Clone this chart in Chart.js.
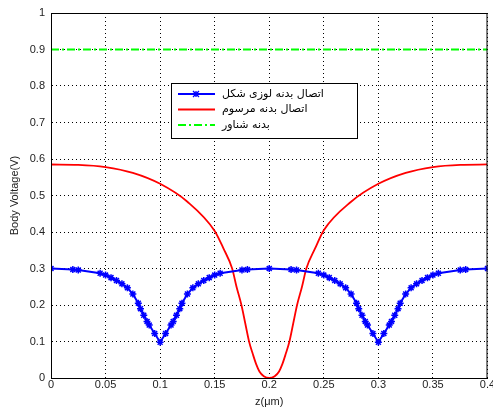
<!DOCTYPE html>
<html>
<head>
<meta charset="utf-8">
<script src="https://cdn.jsdelivr.net/npm/chart.js@4/dist/chart.umd.min.js"></script>
<style>
  html, body { margin: 0; padding: 0; background: #fff; }
  #wrap { width: 493px; height: 413px; }
</style>
</head>
<body>
<div id="wrap"><canvas id="chart"></canvas></div>
<script>
// series
const zBlue = [0, 0.02, 0.025, 0.045, 0.05, 0.055, 0.06, 0.065, 0.07, 0.075, 0.08, 0.082, 0.085, 0.088, 0.09, 0.095, 0.1,
  0.105, 0.11, 0.112, 0.115, 0.118, 0.12, 0.125, 0.13, 0.135, 0.14, 0.145, 0.15, 0.155, 0.175, 0.18, 0.2,
  0.22, 0.225, 0.245, 0.25, 0.255, 0.26, 0.265, 0.27, 0.275, 0.28, 0.282, 0.285, 0.288, 0.29, 0.295, 0.3,
  0.305, 0.31, 0.312, 0.315, 0.318, 0.32, 0.325, 0.33, 0.335, 0.34, 0.345, 0.35, 0.355, 0.375, 0.38, 0.4]
const vBlue = [0.3, 0.297, 0.296, 0.287, 0.282, 0.275, 0.267, 0.258, 0.247, 0.23, 0.205, 0.19, 0.172, 0.155, 0.145, 0.122, 0.098,
  0.122, 0.145, 0.155, 0.172, 0.19, 0.205, 0.23, 0.247, 0.258, 0.267, 0.275, 0.282, 0.287, 0.296, 0.297, 0.3,
  0.297, 0.296, 0.287, 0.282, 0.275, 0.267, 0.258, 0.247, 0.23, 0.205, 0.19, 0.172, 0.155, 0.145, 0.122, 0.098,
  0.122, 0.145, 0.155, 0.172, 0.19, 0.205, 0.23, 0.247, 0.258, 0.267, 0.275, 0.282, 0.287, 0.296, 0.297, 0.3]

const zRed = [0, 0.025, 0.05, 0.075, 0.1, 0.125, 0.15, 0.158, 0.166, 0.17, 0.1745, 0.178, 0.1815, 0.185, 0.188, 0.191, 0.195, 0.2,
  0.205, 0.209, 0.212, 0.215, 0.2185, 0.222, 0.2255, 0.23, 0.234, 0.242, 0.25, 0.275, 0.3, 0.325, 0.35, 0.375, 0.4]
const vRed = [0.585, 0.584, 0.578, 0.562, 0.532, 0.483, 0.403, 0.355, 0.3, 0.25, 0.2, 0.15, 0.1, 0.065, 0.038, 0.018, 0.005, 0.0,
  0.005, 0.018, 0.038, 0.065, 0.1, 0.15, 0.2, 0.25, 0.3, 0.355, 0.405, 0.483, 0.532, 0.562, 0.578, 0.584, 0.585]

const zGreen = [0, 0.4]
const vGreen = [0.9, 0.9]

const seriesNames = ['اتصال بدنه لوزی شکل', 'اتصال بدنه مرسوم', 'بدنه شناور']
const xTicks = [0, 0.05, 0.1, 0.15, 0.2, 0.25, 0.3, 0.35, 0.4]
const yTicks = [0, 0.1, 0.2, 0.3, 0.4, 0.5, 0.6, 0.7, 0.8, 0.9, 1]

const pts = (xs, ys) => xs.map((x, i) => ({ x: x, y: ys[i] }))
const tickFont = { family: 'Liberation Sans, Arial, sans-serif', size: 11 }

// axes box + legend drawn inside the plot, matlab style
const boxAndLegend = {
  id: 'boxAndLegend',
  afterDraw(chart) {
    const c = chart.ctx
    const a = chart.chartArea
    c.save()
    c.strokeStyle = '#000'
    c.lineWidth = 1
    c.setLineDash([])
    c.strokeRect(a.left + 0.5, a.top + 0.5, a.right - a.left - 1, a.bottom - a.top)

    const lx = 171, ly = 83, lw = 186, lh = 55
    c.fillStyle = '#fff'
    c.fillRect(lx, ly, lw, lh)
    c.strokeRect(lx + 0.5, ly + 0.5, lw, lh)
    c.font = '11px "DejaVu Sans", sans-serif'
    c.textBaseline = 'middle'
    chart.data.datasets.forEach((ds, i) => {
      const y = 94 + i * 15.5
      c.strokeStyle = ds.borderColor
      c.lineWidth = ds.borderWidth
      c.setLineDash(ds.borderDash || [])
      c.beginPath()
      c.moveTo(178, y)
      c.lineTo(215, y)
      c.stroke()
      c.setLineDash([])
      if (ds.pointRadius > 0) {
        c.lineWidth = 1.3
        const r = 3
        c.beginPath()
        c.moveTo(196 - r, y - r); c.lineTo(196 + r, y + r)
        c.moveTo(196 - r, y + r); c.lineTo(196 + r, y - r)
        c.moveTo(196, y - r); c.lineTo(196, y + r)
        c.stroke()
      }
      c.fillStyle = '#000'
      c.direction = 'rtl'
      c.textAlign = 'left'
      c.fillText(ds.label, 222, y)
    })
    c.restore()
  }
}

new Chart(document.getElementById('chart'), {
  type: 'scatter',
  data: {
    datasets: [{
      label: seriesNames[0],
      data: pts(zBlue, vBlue),
      showLine: true,
      borderColor: '#0000ff',
      backgroundColor: '#0000ff',
      borderWidth: 2,
      pointStyle: 'star',
      pointRadius: 3.5,
      pointBorderWidth: 1.5
    }, {
      label: seriesNames[1],
      data: pts(zRed, vRed),
      showLine: true,
      borderColor: '#ff0000',
      borderWidth: 1.8,
      pointRadius: 0,
      cubicInterpolationMode: 'monotone'
    }, {
      label: seriesNames[2],
      data: pts(zGreen, vGreen),
      showLine: true,
      borderColor: '#00ff00',
      borderWidth: 2,
      borderDash: [8, 3, 2, 3],
      pointRadius: 0
    }]
  },
  options: {
    responsive: true,
    maintainAspectRatio: false,
    animation: false,
    layout: { padding: { top: 13, right: 5, left: 0, bottom: 0 } },
    plugins: { legend: { display: false }, tooltip: { enabled: false } },
    scales: {
      x: {
        type: 'linear',
        min: 0, max: 0.4,
        afterBuildTicks: s => { s.ticks = xTicks.map(v => ({ value: v })) },
        afterFit: s => { s.height = 35; s.paddingRight = 0; s.paddingLeft = 0 },
        ticks: { color: '#222', font: tickFont, padding: 0, maxRotation: 0, callback: v => String(v) },
        grid: { color: '#000', lineWidth: 1, drawTicks: false },
        border: { display: true, color: '#000', dash: [1, 3] },
        title: { display: true, text: 'z(μm)', color: '#222', font: tickFont, padding: { top: 2 } }
      },
      y: {
        min: 0, max: 1,
        afterBuildTicks: s => { s.ticks = yTicks.map(v => ({ value: v })) },
        afterFit: s => { s.width = 51; s.paddingTop = 0; s.paddingBottom = 0 },
        ticks: { color: '#222', font: tickFont, padding: 6, callback: v => String(v) },
        grid: { color: '#000', lineWidth: 1, drawTicks: false },
        border: { display: true, color: '#000', dash: [1, 3] },
        title: { display: true, text: 'Body Voltage(V)', color: '#222', font: tickFont, padding: { top: 8, bottom: 0 } }
      }
    }
  },
  plugins: [boxAndLegend]
})
</script>
</body>
</html>
